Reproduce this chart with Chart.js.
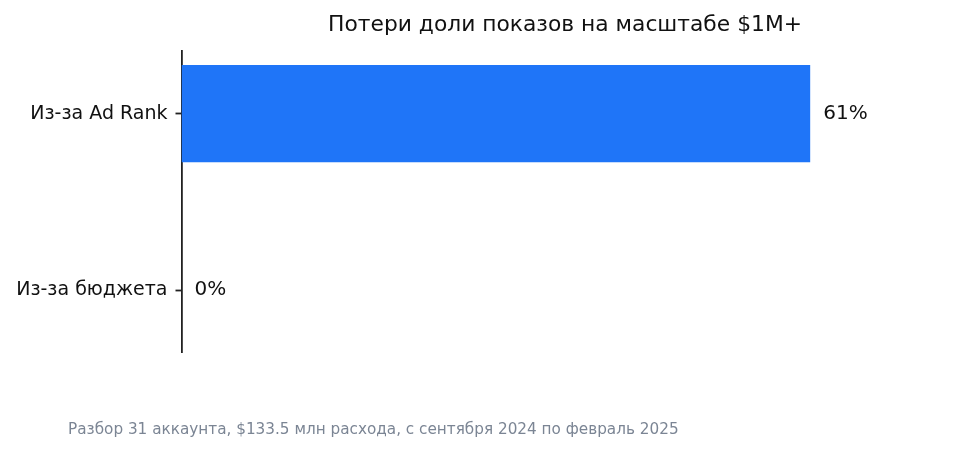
<!DOCTYPE html>
<html lang="ru">
<head>
    <meta charset="UTF-8">
    <title>Потери доли показов на масштабе $1M+</title>
    <script src="https://cdn.jsdelivr.net/npm/chart.js"></script>
    <style>
        html, body {
            margin: 0;
            padding: 0;
            background: #ffffff;
            font-family: "DejaVu Sans", sans-serif;
        }
        .wrap {
            position: relative;
            width: 963px;
            height: 453px;
        }
        #lossChart {
            width: 963px;
            height: 453px;
        }
        .note {
            position: absolute;
            left: 68px;
            top: 420px;
            font-size: 15.25px;
            color: #7b8594;
            white-space: nowrap;
        }
    </style>
</head>
<body>
    <div class="wrap">
        <canvas id="lossChart" width="963" height="453"></canvas>
        <div class="note">Разбор 31 аккаунта, $133.5 млн расхода, с сентября 2024 по февраль 2025</div>
    </div>

    <script>
        // Данные графика
        const categories = ['Из-за Ad Rank', 'Из-за бюджета'];
        const lossValues = [61, 0];
        const valueLabels = ['61%', '0%'];

        // Подписи значений справа от столбцов
        const valueLabelPlugin = {
            id: 'valueLabels',
            afterDatasetsDraw(chart) {
                const ctx = chart.ctx;
                const meta = chart.getDatasetMeta(0);
                const xScale = chart.scales.x;
                ctx.save();
                ctx.font = '20px "DejaVu Sans"';
                ctx.fillStyle = '#111111';
                ctx.textAlign = 'left';
                ctx.textBaseline = 'middle';
                meta.data.forEach((bar, i) => {
                    const x = xScale.getPixelForValue(lossValues[i]) + 13;
                    ctx.fillText(valueLabels[i], x, bar.y);
                });
                ctx.restore();
            }
        };

        const ctx = document.getElementById('lossChart').getContext('2d');
        const chart = new Chart(ctx, {
            type: 'bar',
            data: {
                datasets: [{
                    data: lossValues.map((v, i) => ({ x: v, y: i })),
                    backgroundColor: '#1F75F8',
                    borderWidth: 0,
                    barPercentage: 0.55,
                    categoryPercentage: 1.0
                }]
            },
            options: {
                indexAxis: 'y',
                responsive: false,
                animation: false,
                layout: {
                    padding: { left: 0, right: 14.5, top: 0, bottom: 100 }
                },
                scales: {
                    x: {
                        type: 'linear',
                        min: 0,
                        max: 61 * 1.22,
                        display: false
                    },
                    y: {
                        type: 'linear',
                        reverse: true,
                        offset: false,
                        min: -0.355,
                        max: 1.355,
                        afterBuildTicks: (scale) => {
                            scale.ticks = categories.map((c, i) => ({ value: i }));
                        },
                        afterFit: (scale) => {
                            scale.width = 181.5;
                        },
                        border: { display: true, color: '#222222', width: 1.8 },
                        grid: {
                            offset: false,
                            drawOnChartArea: false,
                            drawTicks: true,
                            tickLength: 6,
                            tickWidth: 1.8,
                            tickColor: '#222222'
                        },
                        ticks: {
                            padding: 8,
                            color: '#111111',
                            font: { family: 'DejaVu Sans', size: 19 },
                            callback: (value) => categories[value]
                        }
                    }
                },
                plugins: {
                    legend: { display: false },
                    tooltip: { enabled: false },
                    title: {
                        display: true,
                        fullSize: false,
                        text: 'Потери доли показов на масштабе $1M+',
                        color: '#111111',
                        font: { family: 'DejaVu Sans', size: 21.8, weight: 'normal', lineHeight: 1.2 },
                        padding: { top: 12, bottom: 12.8 }
                    }
                }
            },
            plugins: [valueLabelPlugin]
        });
    </script>
</body>
</html>
